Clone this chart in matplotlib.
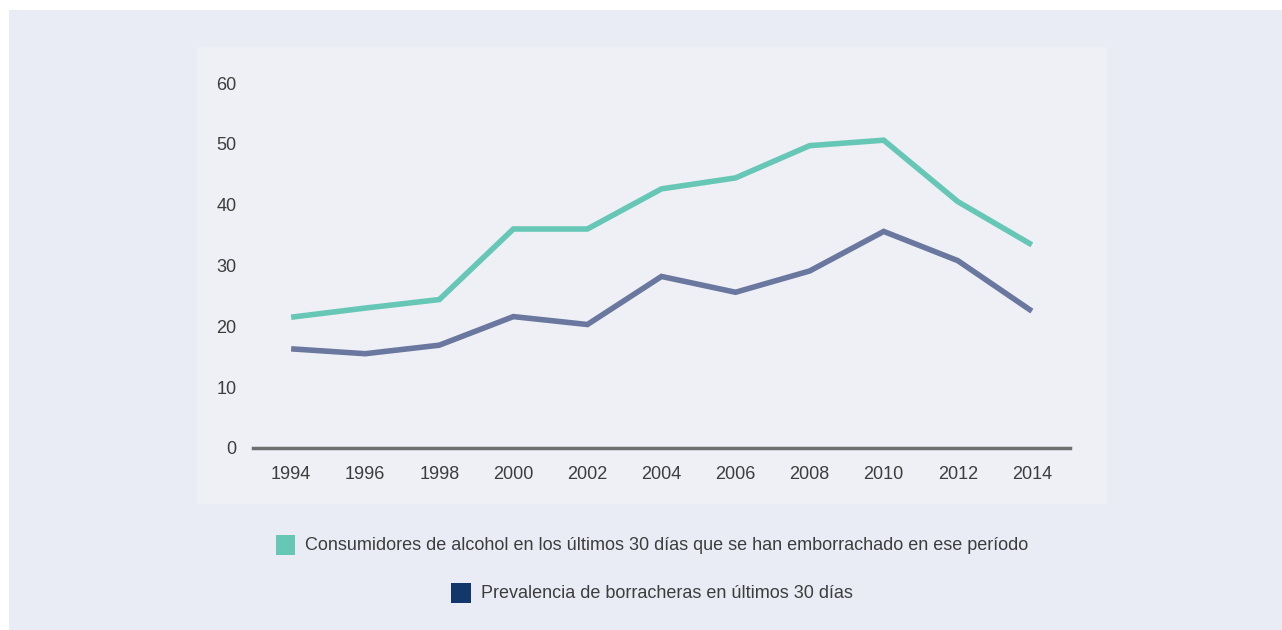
import matplotlib
matplotlib.use("Agg")
import matplotlib.pyplot as plt
from matplotlib.patches import Rectangle
from matplotlib.offsetbox import (AnchoredOffsetbox, HPacker, TextArea,
                                  DrawingArea)

plt.rcParams['font.family'] = ['Liberation Sans', 'DejaVu Sans']

years = [1994, 1996, 1998, 2000, 2002, 2004, 2006, 2008, 2010, 2012, 2014]
consumidores = [21.5, 23.0, 24.4, 36.0, 36.0, 42.6, 44.4, 49.7, 50.6, 40.5, 33.4]
prevalencia = [16.3, 15.5, 16.9, 21.6, 20.3, 28.2, 25.6, 29.1, 35.6, 30.8, 22.5]
yticks = [0, 10, 20, 30, 40, 50, 60]
labels = ["Consumidores de alcohol en los últimos 30 días que se han emborrachado en ese período",
          "Prevalencia de borracheras en últimos 30 días"]

green = "#66c7b6"
line_blue = "#6a779f"
legend_blue = "#11376b"
txt = "#3d3d3d"

W, H = 1282, 630
fig = plt.figure(figsize=(W / 100, H / 100), dpi=100)
fig.patch.set_facecolor("white")

# outer panel + inner lighter panel (behind the axes)
fig.patches.append(Rectangle((9 / W, 0), 1 - 9 / W, 1 - 10 / H,
                             transform=fig.transFigure, facecolor="#e9ecf4",
                             edgecolor="none", zorder=-2))
fig.patches.append(Rectangle((197 / W, 1 - 504 / H), 910 / W, 457 / H,
                             transform=fig.transFigure, facecolor="#eef0f5",
                             edgecolor="none", zorder=-1))

ax = fig.add_axes([253 / W, 1 - 448 / H, 817 / W, 365 / H])
ax.set_facecolor("none")
ax.plot(years, consumidores, color=green, lw=4, solid_joinstyle="miter",
        solid_capstyle="butt", clip_on=False)
ax.plot(years, prevalencia, color=line_blue, lw=4, solid_joinstyle="miter",
        solid_capstyle="butt", clip_on=False)

ax.set_xlim(1992.97, 2015.03)
ax.set_ylim(0, 60)
ax.set_xticks(years)
ax.set_yticks(yticks)
for s in ["top", "right", "left"]:
    ax.spines[s].set_visible(False)
ax.spines["bottom"].set_color("#6e6e6e")
ax.spines["bottom"].set_linewidth(2.5)
ax.tick_params(axis="both", length=0, labelsize=13, colors=txt)
ax.tick_params(axis="x", pad=13)
ax.tick_params(axis="y", pad=12)

# legend, each row centred under the inner panel
for lab, col, ypos in [(labels[0], green, 1 - 545 / H),
                       (labels[1], legend_blue, 1 - 593 / H)]:
    da = DrawingArea(14, 14, 0, 0)
    da.add_artist(Rectangle((0, 0), 14, 14, facecolor=col, edgecolor="none"))
    ta = TextArea(lab, textprops=dict(color=txt, fontsize=13))
    box = HPacker(children=[da, ta], align="center", pad=0, sep=7)
    anch = AnchoredOffsetbox(loc="center", child=box, frameon=False,
                             bbox_to_anchor=(652 / W, ypos),
                             bbox_transform=fig.transFigure, pad=0,
                             borderpad=0)
    fig.add_artist(anch)

fig.savefig("out.png", dpi=100)
